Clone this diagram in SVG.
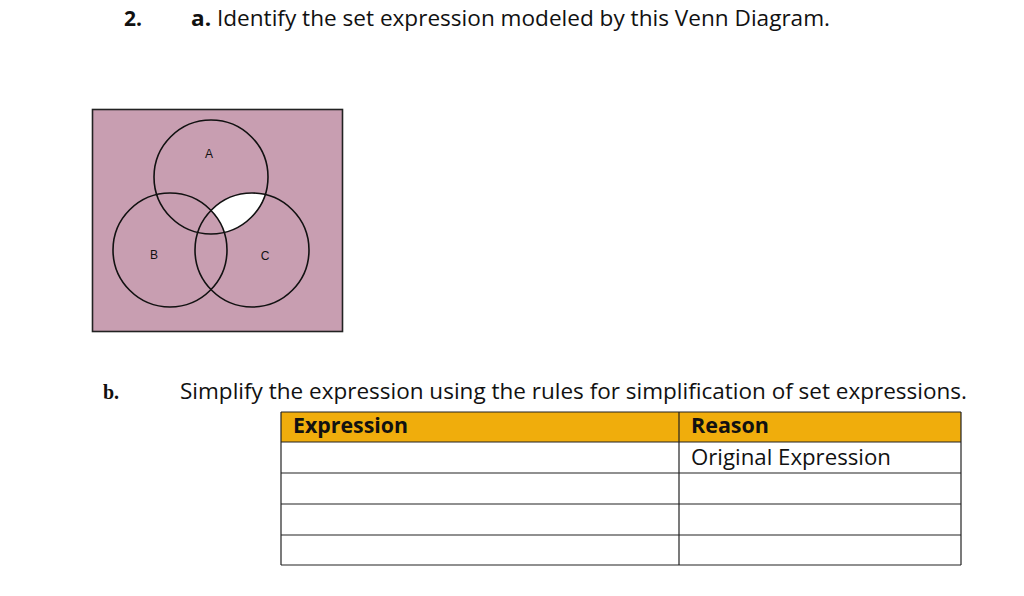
<svg xmlns="http://www.w3.org/2000/svg" width="1024" height="596" viewBox="0 0 1024 596">
<style>
.t{font-family:"Open Sans","Liberation Sans",sans-serif;font-size:21px;fill:#111}
.b{font-weight:bold}
.tm{font-family:"Liberation Serif",serif;font-size:20px;font-weight:bold;fill:#111}
.lbl{font-family:"Liberation Sans",sans-serif;font-size:12px;fill:#111}
.c{fill:none;stroke:#111;stroke-width:1.6}
.g{stroke:#222;stroke-width:1.2}
</style>
<defs>
<clipPath id="clipA"><circle cx="211" cy="177" r="57"/></clipPath>
</defs>
<rect width="1024" height="596" fill="#fff"/>
<text class="t b" x="124" y="26">2.</text>
<text class="t" x="191" y="26" textLength="639" lengthAdjust="spacingAndGlyphs"><tspan class="b">a.</tspan> Identify the set expression modeled by this Venn Diagram.</text>

<g id="venn">
<rect x="92.5" y="109.5" width="250" height="222" fill="#C89EB1" stroke="#222" stroke-width="1.6"/>
<g clip-path="url(#clipA)">
<circle cx="252" cy="250" r="57" fill="#fff"/>
<circle cx="170" cy="250" r="57" fill="#C89EB1"/>
</g>
<circle class="c" cx="211" cy="177" r="57"/>
<circle class="c" cx="170" cy="250" r="57"/>
<circle class="c" cx="252" cy="250" r="57"/>
<text class="lbl" x="209" y="158" text-anchor="middle">A</text>
<text class="lbl" x="154" y="259" text-anchor="middle">B</text>
<text class="lbl" x="265" y="260" text-anchor="middle">C</text>
</g>

<text class="tm" x="103" y="399">b.</text>
<text class="t" x="180" y="399" textLength="787" lengthAdjust="spacingAndGlyphs">Simplify the expression using the rules for simplification of set expressions.</text>

<g id="table">
<rect x="281" y="412" width="680" height="30" fill="#F0AD0C"/>
<g class="g">
<line x1="281" y1="412" x2="961" y2="412"/>
<line x1="281" y1="442" x2="961" y2="442"/>
<line x1="281" y1="473" x2="961" y2="473"/>
<line x1="281" y1="504" x2="961" y2="504"/>
<line x1="281" y1="535" x2="961" y2="535"/>
<line x1="281" y1="565" x2="961" y2="565"/>
<line x1="281" y1="412" x2="281" y2="565"/>
<line x1="679" y1="412" x2="679" y2="565"/>
<line x1="961" y1="412" x2="961" y2="565"/>
</g>
<text class="t b" x="293" y="433" textLength="115" lengthAdjust="spacingAndGlyphs">Expression</text>
<text class="t b" x="691" y="433" textLength="78" lengthAdjust="spacingAndGlyphs">Reason</text>
<text class="t" x="691" y="465" textLength="200" lengthAdjust="spacingAndGlyphs">Original Expression</text>
</g>
</svg>
